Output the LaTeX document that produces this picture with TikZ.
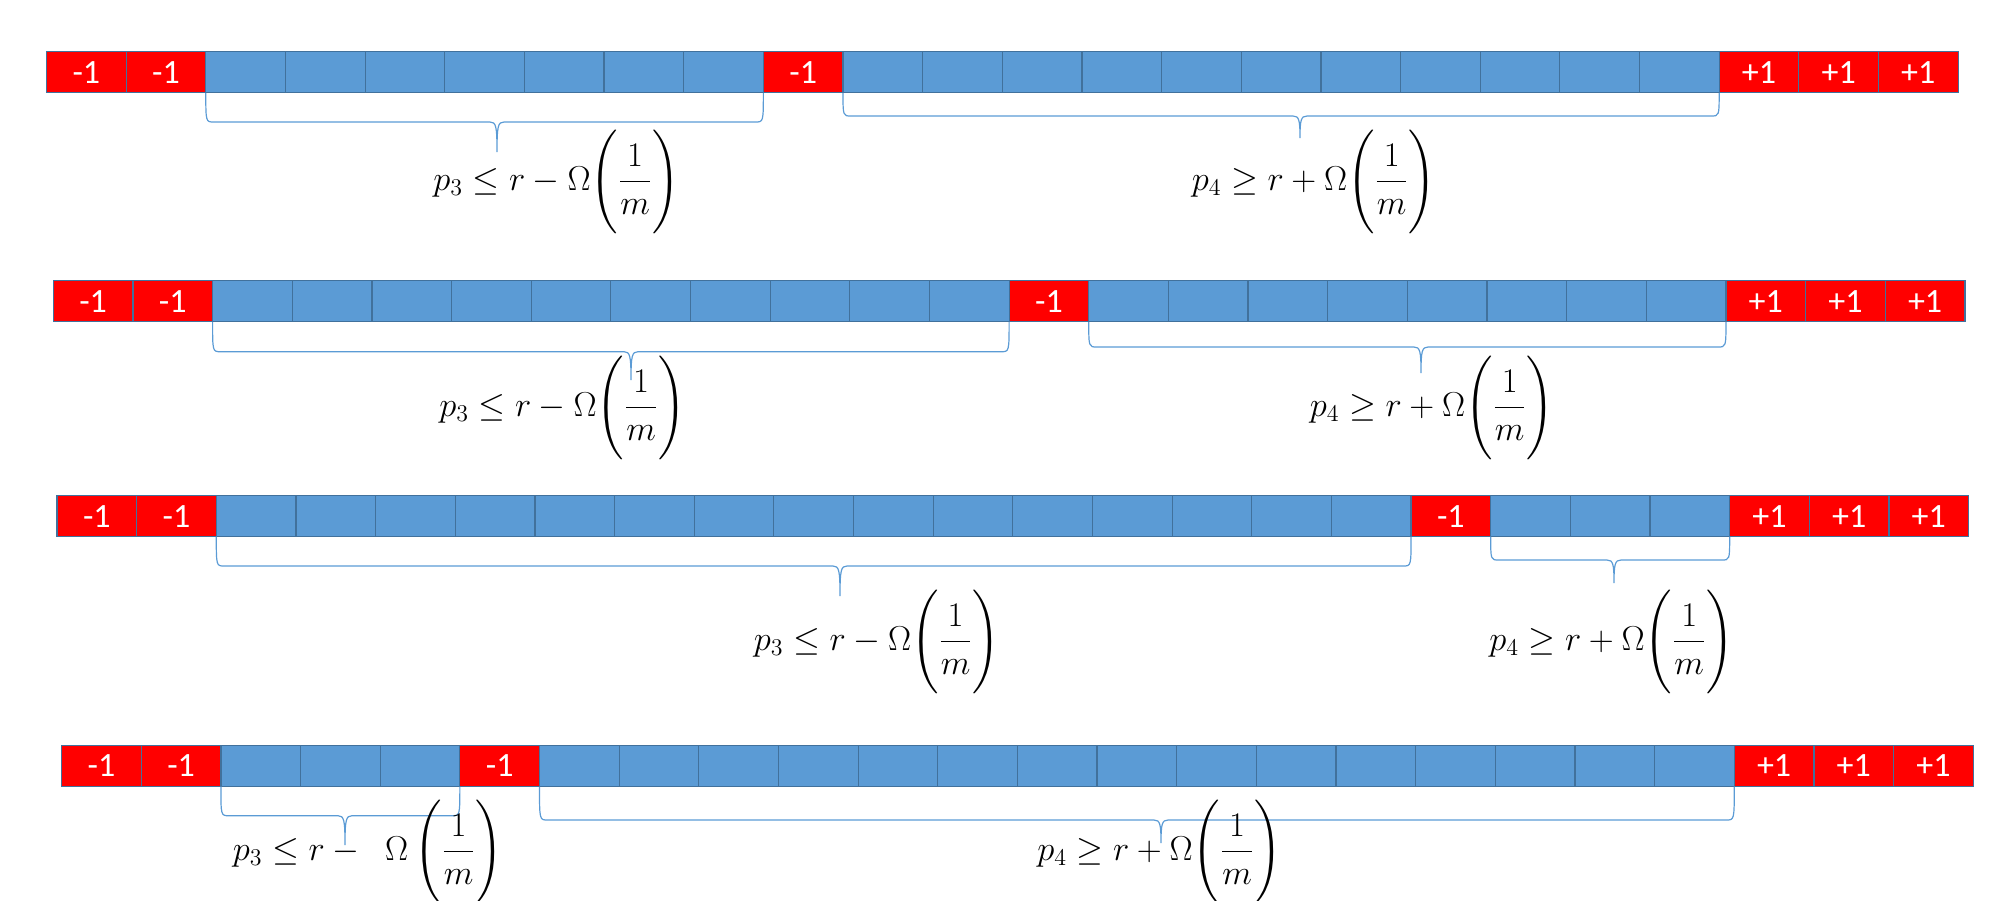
\documentclass[tikz,border=0pt]{standalone}
\usepackage{fontspec}
\usepackage{amsmath}
\newfontfamily\cellfont{Carlito}
\usetikzlibrary{calc}
\definecolor{cellblue}{HTML}{5B9BD5}
\definecolor{cellline}{HTML}{41719C}
\definecolor{cellred}{HTML}{FF0000}
\definecolor{bracecol}{HTML}{5B9BD5}
\tikzset{
  cell/.style={draw=cellline, line width=0.6pt, minimum width=39.825pt, minimum height=20.5pt,
    inner sep=0pt, outer sep=0pt, font=\cellfont\fontsize{17}{17}\selectfont, text=white},
  bluecell/.style={cell, fill=cellblue},
  redcell/.style={cell, fill=cellred},
  brc/.style={draw=bracecol, line width=0.6pt},
  eq/.style={inner sep=0pt, font=\fontsize{17}{20}\selectfont}
}
\newcommand\fracm{\Biggl(\frac{1}{m}\Biggr)}
% #1 row id, #2 left x, #3 centre y, #4 first blue run, #5 second blue run
\newcommand\cellrow[5]{%
  \foreach \i in {1,...,24}{%
    \pgfmathsetmacro\cx{#2+(\i-0.5)*79.65}%
    \pgfmathtruncatemacro\kind{ifthenelse(\i<3,1,ifthenelse(\i<3+#4,0,ifthenelse(\i==3+#4,1,ifthenelse(\i<4+#4+#5,0,2))))}%
    \ifcase\kind
      \node[bluecell] (r#1c\i) at (\cx,#3) {};
    \or
      \node[redcell] (r#1c\i) at (\cx,#3) {-1};
    \or
      \node[redcell] (r#1c\i) at (\cx,#3) {+1};
    \fi
  }%
}
% #1 left cell, #2 right cell, #3 y of the long stroke, #4 tip x, #5 tip y
\newcommand\obrace[5]{%
  \coordinate (bl) at (#1.south west);
  \coordinate (br) at (#2.south east);
  \coordinate (bh) at (0,#3);
  \draw[brc] (bl) .. controls (bl|-bh) .. ($(bl|-bh)+(8,0)$)
    -- ({#4-7},{#3}) .. controls ({#4-1},{#3}) and ({#4},{#3+4}) .. ({#4},{#5})
    .. controls ({#4},{#3+4}) and ({#4+1},{#3}) .. ({#4+7},{#3})
    -- ($(br|-bh)+(-8,0)$) .. controls (br|-bh) .. (br);
}
\begin{document}
\begin{tikzpicture}[x=0.5pt,y=-0.5pt]
\useasboundingbox (0,0) rectangle (2000,900);
\cellrow{1}{46.5}{72.3}{7}{11}
\cellrow{2}{53.3}{301.3}{10}{8}
\cellrow{3}{57}{516.2}{15}{3}
\cellrow{4}{61.6}{766}{3}{15}

\obrace{r1c3}{r1c9}{122}{497}{152}
\obrace{r1c11}{r1c21}{116}{1300}{138}
\obrace{r2c3}{r2c12}{351.7}{631}{380}
\obrace{r2c14}{r2c21}{347}{1421}{373}
\obrace{r3c3}{r3c17}{566}{840}{596}
\obrace{r3c19}{r3c21}{560}{1614}{583}
\obrace{r4c3}{r4c5}{815.7}{345}{845}
\obrace{r4c7}{r4c21}{820}{1161}{843}

\node[eq] (t1a) at (556.5,181.7) {$\displaystyle p_3 \le r - \Omega\fracm$};
\node[eq] (t1b) at (1314,181.7) {$\displaystyle p_4 \ge r + \Omega\fracm$};
\node[eq] (t2a) at (562.5,407.7) {$\displaystyle p_3 \le r - \Omega\fracm$};
\node[eq] (t2b) at (1432,407.7) {$\displaystyle p_4 \ge r + \Omega\fracm$};
\node[eq] (t3a) at (877,641.7) {$\displaystyle p_3 \le r - \Omega\fracm$};
\node[eq] (t3b) at (1611.5,641.7) {$\displaystyle p_4 \ge r + \Omega\fracm$};
\node[eq] (t4a) at (368,851.7) {$\displaystyle p_3 \le r -\hspace{9pt} \Omega\hspace{3pt}\fracm$};
\node[eq] (t4b) at (1159.5,851.7) {$\displaystyle p_4 \ge r + \Omega\fracm$};
\end{tikzpicture}
\end{document}
